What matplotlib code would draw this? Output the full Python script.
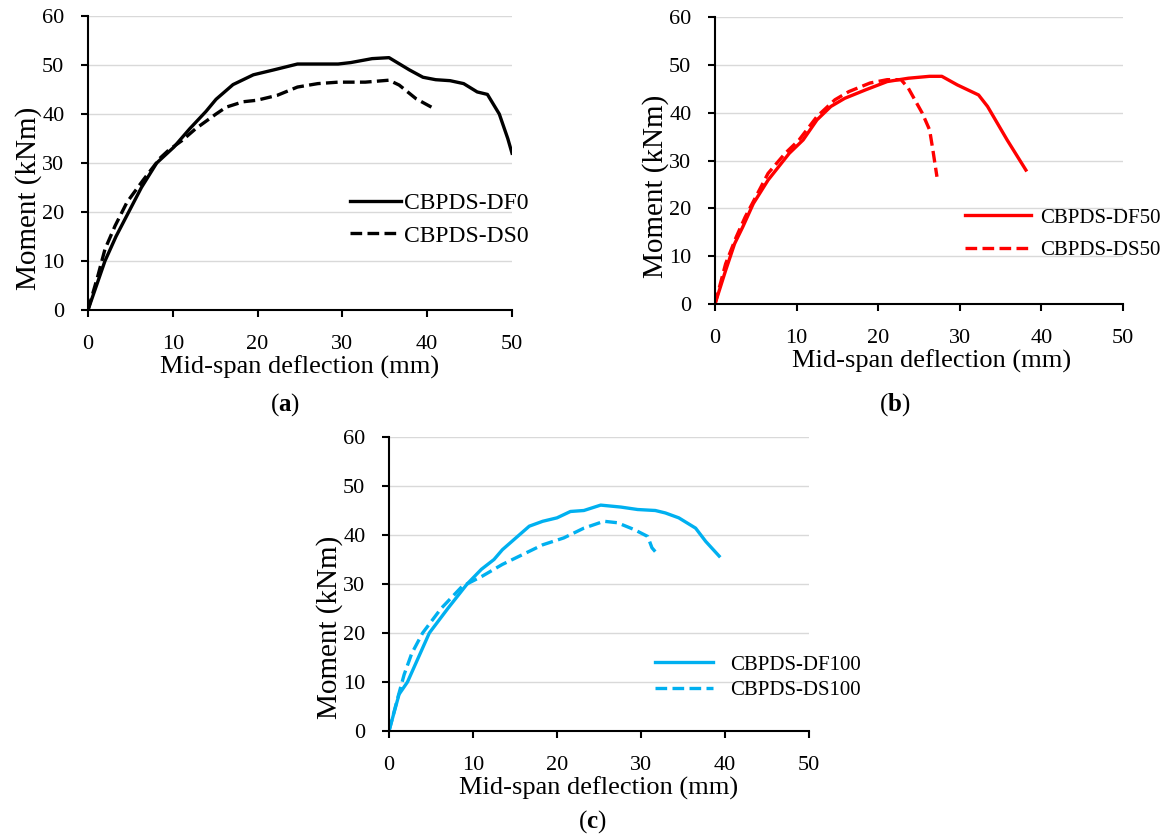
import matplotlib
matplotlib.use("Agg")
import matplotlib.pyplot as plt

plt.rcParams['font.family'] = ['Liberation Serif', 'DejaVu Serif']
plt.rcParams['mathtext.fontset'] = 'custom'
plt.rcParams['mathtext.rm'] = 'Liberation Serif'
plt.rcParams['mathtext.bf'] = 'Liberation Serif:bold'

# (a) 0% series
df0_x = [0, 1, 2, 3.3, 4.8, 6.3, 8.1, 10.1, 12, 13.9, 15.1, 17.1, 19.5, 21.9, 24.7,
         29.5, 31, 33.5, 35.5, 37.9, 39.5, 41, 42.7, 44.3, 45.9, 47.1, 48.5, 49.5, 50]
df0_y = [0, 5, 10, 15, 20, 25, 30, 33.2, 37, 40.5, 43, 46, 48, 49, 50.2,
         50.2, 50.5, 51.3, 51.5, 49, 47.5, 47, 46.8, 46.2, 44.5, 44, 40, 35, 32]
ds0_x = [0, 1.2, 2, 3.2, 4.6, 6.5, 8.5, 9.5, 11.1, 12.7, 15.1, 16.3, 18.3, 19.9,
         22.3, 24.7, 27.1, 29.5, 32.7, 35.5, 36.7, 38.7, 40.5]
ds0_y = [0, 7.2, 12.4, 17.2, 22, 26.5, 31, 32.6, 34.6, 37, 40, 41.4, 42.5, 42.8,
         43.8, 45.5, 46.2, 46.5, 46.5, 46.9, 45.9, 43.1, 41.4]

# (b) 50% series
df50_x = [0, 1.3, 2.4, 3.4, 4.7, 6.5, 7.8, 9.1, 10.8, 12.5, 14.2, 15.9, 18.5, 21.1,
          23.7, 26.3, 27.8, 29.7, 32.3, 33.4, 35.8, 38.1]
df50_y = [0, 7, 12.6, 16.1, 21, 25.9, 28.7, 31.5, 34.3, 38.5, 41.3, 43, 44.8, 46.5,
          47.2, 47.6, 47.6, 45.8, 43.7, 41.3, 34.3, 28]
ds50_x = [0, 1.3, 2.6, 3.7, 5, 6.5, 8.6, 10.3, 12.5, 14.7, 16.4, 19, 21.1, 22.8,
          23.7, 25.4, 26.3, 26.7, 27.2]
ds50_y = [0, 8.4, 14, 18.2, 22.4, 27.3, 31.5, 34.3, 39.2, 42.7, 44.4, 46.2, 46.9, 46.9,
          45.1, 39.9, 36.4, 32.2, 26.6]

# (c) 100% series
df100_x = [0, 1.2, 2.2, 3.5, 4.8, 7, 9.3, 11, 12.5, 13.5, 15.1, 16.7, 18.3, 20, 21.6,
           23.2, 25.2, 27.6, 29.6, 31.7, 32.9, 34.5, 36.5, 37.7, 39.3]
df100_y = [0, 7.5, 10, 15, 20, 25, 30, 33, 35, 37, 39.4, 41.8, 42.8, 43.5, 44.8,
           45, 46.1, 45.7, 45.2, 45, 44.5, 43.5, 41.4, 38.7, 35.7]
ds100_x = [0, 1, 1.8, 2.7, 4, 6.2, 8.7, 11.1, 13.5, 15.9, 18.3, 20.8, 23.2, 25.6,
           27.2, 29.2, 30.8, 31.3, 32]
ds100_y = [0, 6.5, 11.5, 15.8, 20, 25, 29.5, 31.6, 34, 36, 38, 39.4, 41.4, 42.8,
           42.5, 41.1, 39.7, 37.4, 36]

panels = [
    dict(rect=[88/1173, 1-310/836, 424/1173, 294/836], color='black',
         df=(df0_x, df0_y), ds=(ds0_x, ds0_y), names=['CBPDS-DF0', 'CBPDS-DS0'],
         leg=(0.618, 0.307), lfs=17, hl=2.16, htp=0.13, ls=0.45,
         ylab_y=0.378, xlab_x=0.5, tag='a', tagpos=(285, 405)),
    dict(rect=[715/1173, 1-304/836, 408/1173, 287/836], color='#ff0000',
         df=(df50_x, df50_y), ds=(ds50_x, ds50_y), names=['CBPDS-DF50', 'CBPDS-DS50'],
         leg=(0.612, 0.244), lfs=15, hl=3.2, htp=0.43, ls=0.62,
         ylab_y=0.41, xlab_x=0.53, tag='b', tagpos=(895, 405)),
    dict(rect=[389/1173, 1-731/836, 420/1173, 294/836], color='#00b0f0',
         df=(df100_x, df100_y), ds=(ds100_x, ds100_y), names=['CBPDS-DF100', 'CBPDS-DS100'],
         leg=(0.633, 0.181), lfs=15, hl=2.8, htp=0.8, ls=0.3,
         ylab_y=0.354, xlab_x=0.5, tag='c', tagpos=(592, 822)),
]

fig = plt.figure(figsize=(11.73, 8.36), dpi=100)

for p in panels:
    ax = fig.add_axes(p['rect'])
    ax.plot(p['df'][0], p['df'][1], color=p['color'], lw=2.4, label=p['names'][0])
    ax.plot(p['ds'][0], p['ds'][1], color=p['color'], lw=2.4, dashes=(3.5, 1.6),
            label=p['names'][1])
    ax.set_xlim(0, 50)
    ax.set_ylim(0, 60)
    ax.set_xticks(range(0, 51, 10))
    ax.set_yticks(range(0, 61, 10))
    ax.grid(axis='y', color='#d9d9d9', lw=1)
    ax.set_axisbelow(True)
    for s in ['top', 'right']:
        ax.spines[s].set_visible(False)
    for s in ['left', 'bottom']:
        ax.spines[s].set_linewidth(1.5)
    ax.tick_params(axis='both', direction='out', length=5, width=1.5, labelsize=16,
                   colors='black')
    ax.tick_params(axis='x', pad=13)
    ax.tick_params(axis='y', pad=12)
    ax.set_xlabel('Mid-span deflection (mm)', fontsize=19, labelpad=1)
    ax.set_ylabel('Moment (kNm)', fontsize=21, labelpad=0)
    ax.yaxis.label.set_y(p['ylab_y'])
    ax.xaxis.label.set_x(p['xlab_x'])
    ax.legend(loc='center left', bbox_to_anchor=p['leg'], frameon=False, fontsize=p['lfs'],
              handlelength=p['hl'], handletextpad=p['htp'], labelspacing=p['ls'],
              borderpad=0, borderaxespad=0)
    fig.text(p['tagpos'][0]/1173, 1-p['tagpos'][1]/836,
             r'$\mathrm{(}\mathbf{%s}\mathrm{)}$' % p['tag'],
             fontsize=18, ha='center', va='center')

fig.savefig('out.png', dpi=100)
